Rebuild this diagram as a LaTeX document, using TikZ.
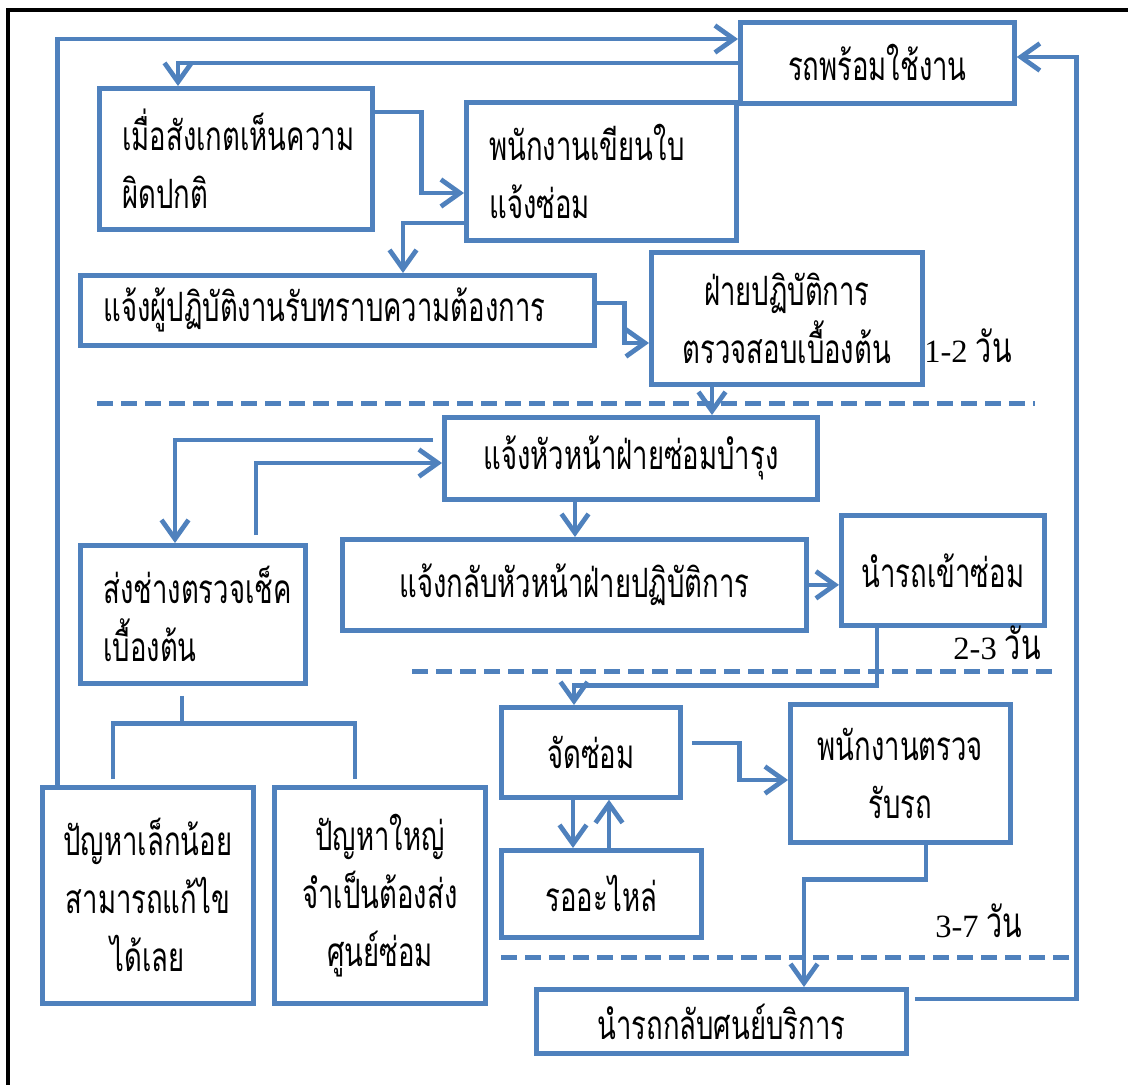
\documentclass[tikz,border=0pt]{standalone}
\usepackage{fontspec}
\setmainfont{Liberation Serif}
\newfontfamily\thai[Script=Thai, FakeStretch=0.68]{Loma}
\usetikzlibrary{arrows.meta}
\definecolor{boxblue}{RGB}{79,129,189}

\begin{document}
\begin{tikzpicture}[x=0.2mm, y=-0.2mm, >={Straight Barb[length=3.8mm,width=5.4mm]},
    box/.style={draw=boxblue, line width=0.95mm, anchor=north west, inner sep=0pt, align=center, font=\thai\fontsize{23}{33}\selectfont},
    lbox/.style={box, align=left, inner xsep=4.6mm},
    conn/.style={draw=boxblue, line width=0.95mm},
    cut/.style={boxblue, line width=1mm, dash pattern=on 3.2mm off 1.6mm},
    days/.style={anchor=base, font=\fontsize{18.5}{20}\selectfont}]

    \fill[white] (0,0) rectangle (1128,1085);
    \useasboundingbox (0,0) rectangle (1128,1085);
    \draw[line width=0.8mm] (8,1085) -- (8,10) -- (1128,10);

    \node[box, minimum width=54.8mm, minimum height=16.2mm] (ready) at (738,20) {รถพร้อมใช้งาน};
    \node[lbox, text width=45.4mm, minimum height=28.2mm] (notice) at (97,86) {เมื่อสังเกตเห็นความ\\ผิดปกติ};
    \node[lbox, text width=44.8mm, minimum height=27.6mm] (slip) at (464,100) {พนักงานเขียนใบ\\แจ้งซ่อม};
    \node[lbox, text width=93.6mm, minimum height=14mm] (tellop) at (78,273) {แจ้งผู้ปฏิบัติงานรับทราบความต้องการ};
    \node[box, minimum width=54.2mm, minimum height=26.4mm] (opcheck) at (649,250) {ฝ่ายปฏิบัติการ\\ตรวจสอบเบื้องต้น};
    \node[box, minimum width=74.6mm, minimum height=16.4mm] (tellhead) at (442,415) {แจ้งหัวหน้าฝ่ายซ่อมบำรุง};
    \node[lbox, text width=35.8mm, minimum height=27.6mm] (tech) at (78,543) {ส่งช่างตรวจเช็ค\\เบื้องต้น};
    \node[box, minimum width=92.8mm, minimum height=18.2mm] (reply) at (340,537) {แจ้งกลับหัวหน้าฝ่ายปฏิบัติการ};
    \node[box, minimum width=40.6mm, minimum height=22mm] (bringin) at (839,513) {นำรถเข้าซ่อม};
    \node[box, minimum width=35.8mm, minimum height=18mm] (fix) at (499,705) {จัดซ่อม};
    \node[box, minimum width=40mm, minimum height=17.4mm] (parts) at (499,848) {รออะไหล่};
    \node[box, minimum width=44mm, minimum height=27.6mm] (accept) at (788,702) {พนักงานตรวจ\\รับรถ};
    \node[box, minimum width=74mm, minimum height=12.8mm] (back) at (534,987) {นำรถกลับศนย์บริการ};
    \node[box, minimum width=42.2mm, minimum height=43.2mm] (minor) at (40,785) {ปัญหาเล็กน้อย\\สามารถแก้ไข\\ได้เลย};
    \node[box, minimum width=42.2mm, minimum height=43.2mm] (major) at (272,785) {ปัญหาใหญ่\\จำเป็นต้องส่ง\\ศูนย์ซ่อม};

    \draw[cut] (97,403) -- (1035,403);
    \draw[cut] (412,671) -- (1059,671);
    \draw[cut] (501,957) -- (1069,957);

    \node[days] (first) at (968,362) {1-2 {\thai\fontsize{24}{24}\selectfont วัน}};
    \node[days] (second) at (997,659) {2-3 {\thai\fontsize{24}{24}\selectfont วัน}};
    \node[days] (third) at (979,937) {3-7 {\thai\fontsize{24}{24}\selectfont วัน}};

    \draw[conn, ->] ([xshift=3.5mm]minor.north west) |- ([yshift=-3.8mm]ready.north west);
    \draw[conn, ->] (ready.west) -| ([xshift=16.2mm]notice.north west);
    \draw[conn, ->] ([yshift=-5.2mm]notice.north east) -- ++(9.4mm,0) |- ([yshift=-18.6mm]slip.north west);
    \draw[conn, ->] ([yshift=-24.6mm]slip.north west) -| ([xshift=65mm]tellop.north west);
    \draw[conn, ->] ([yshift=-6mm]tellop.north east) -- ++(5.6mm,0) |- ([yshift=-18.6mm]opcheck.north west);
    \draw[conn, ->] ([xshift=12.6mm]opcheck.south west) coordinate (e1) -- (e1 |- tellhead.north);
    \draw[conn, ->] ([xshift=-1.8mm, yshift=-5mm]tellhead.north west) -| ([xshift=19.4mm]tech.north west);
    \draw[conn, ->] ([xshift=35.6mm, yshift=1.6mm]tech.north west) |- ([yshift=-9.6mm]tellhead.north west);
    \draw[conn, ->] ([xshift=26.6mm]tellhead.south west) coordinate (f1) -- (f1 |- reply.north);
    \draw[conn, ->] (reply.east) -- (reply.east -| bringin.west);
    \draw[conn, ->] ([xshift=7.6mm]bringin.south west) -- ++(0,-11.6mm) -| ([xshift=15mm]fix.north west);
    \draw[conn] ([xshift=20.8mm, yshift=-2mm]tech.south west) -- ++(0,-5.6mm) coordinate (split);
    \draw[conn] ([xshift=14.6mm, yshift=1.2mm]minor.north west) |- (split) -| ([xshift=16.6mm, yshift=1.2mm]major.north west);
    \draw[conn, ->] ([xshift=14.8mm]fix.south west) coordinate (j1) -- (j1 |- parts.north);
    \draw[conn, ->] ([xshift=22mm]parts.north west) coordinate (k1) -- (k1 |- fix.south);
    \draw[conn, ->] ([xshift=1.8mm, yshift=-7.6mm]fix.north east) -- ++(9.6mm,0) |- ([yshift=-15.6mm]accept.north west);
    \draw[conn, ->] ([xshift=27.6mm]accept.south west) -- ++(0,-7mm) -| ([xshift=54mm]back.north west);
    \draw[conn, ->] ([xshift=1.2mm, yshift=-2.4mm]back.north east) -- ++(32.4mm,0) |- ([yshift=-7.4mm]ready.north east);

\end{tikzpicture}
\end{document}
